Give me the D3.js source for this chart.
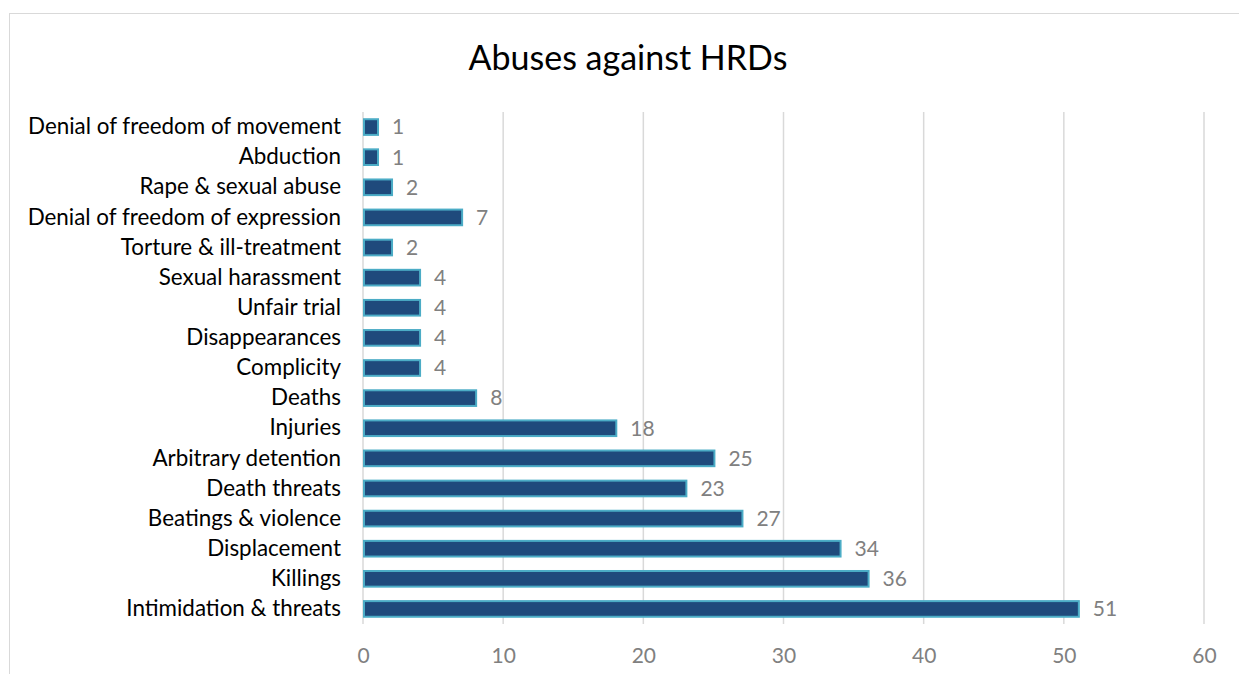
<!DOCTYPE html>
<html>
<head>
<meta charset="utf-8">
<script src="https://cdn.jsdelivr.net/npm/d3@7"></script>
<style>
  body { margin: 0; background: #fff; }
  svg { font-family: Lato, sans-serif; }
</style>
</head>
<body>
<div id="chart"></div>
<script>
var categories = [
  "Denial of freedom of movement", "Abduction", "Rape & sexual abuse",
  "Denial of freedom of expression", "Torture & ill-treatment", "Sexual harassment",
  "Unfair trial", "Disappearances", "Complicity", "Deaths ", "Injuries",
  "Arbitrary detention", "Death threats", "Beatings & violence", "Displacement",
  "Killings", "Intimidation & threats"
];
var values = [1, 1, 2, 7, 2, 4, 4, 4, 4, 8, 18, 25, 23, 27, 34, 36, 51];
var xTicks = [0, 10, 20, 30, 40, 50, 60];

var W = 1239, H = 674;
var margin = {top: 112, right: 35, bottom: 50, left: 363},
    width = 1204 - margin.left,
    height = 624 - margin.top;

var svg = d3.select("#chart").append("svg")
    .attr("width", W)
    .attr("height", H);

// chart frame
svg.append("rect")
  .attr("x", 9.5).attr("y", 13.5)
  .attr("width", W).attr("height", H)
  .attr("fill", "none")
  .attr("stroke", "#d9d9d9")
  .attr("stroke-width", 1);

svg.append("text")
  .attr("x", 628).attr("y", 70)
  .attr("text-anchor", "middle")
  .attr("font-size", 34)
  .attr("fill", "#000")
  .text("Abuses against HRDs");

var g = svg.append("g")
  .attr("transform", "translate(" + margin.left + "," + margin.top + ")");

var x = d3.scaleLinear().domain([0, 60]).range([0, width]);
var y = d3.scaleBand().domain(categories).range([0, height])
  .paddingInner(0.48).paddingOuter(0.24);

// vertical grid
g.append("g")
  .selectAll("line")
  .data(xTicks)
  .enter().append("line")
    .attr("x1", function(d){ return x(d); })
    .attr("x2", function(d){ return x(d); })
    .attr("y1", 0).attr("y2", height)
    .attr("stroke", "#d9d9d9")
    .attr("stroke-width", 1.5);

// x tick labels
var xAxis = g.append("g")
  .attr("transform", "translate(0," + height + ")")
  .call(d3.axisBottom(x).tickValues(xTicks).tickSize(0).tickPadding(24));
xAxis.select(".domain").remove();
xAxis.selectAll("text")
  .attr("font-size", 21)
  .attr("font-family", "Lato, sans-serif")
  .attr("fill", "#808080");

// category labels
var yAxis = g.append("g")
  .call(d3.axisLeft(y).tickSize(0).tickPadding(22));
yAxis.select(".domain").remove();
yAxis.selectAll("text")
  .attr("font-size", 22.4)
  .attr("font-family", "Lato, sans-serif")
  .attr("fill", "#000");

// bars
g.append("g")
  .selectAll("rect")
  .data(values)
  .enter().append("rect")
    .attr("x", x(0) + 1)
    .attr("y", function(d, i){ return y(categories[i]); })
    .attr("width", function(d){ return x(d) - x(0); })
    .attr("height", y.bandwidth())
    .attr("fill", "#1f4a7c")
    .attr("stroke", "#4bacc6")
    .attr("stroke-width", 2);

// value labels
g.append("g")
  .selectAll("text")
  .data(values)
  .enter().append("text")
    .attr("x", function(d){ return x(d) + 15; })
    .attr("y", function(d, i){ return y(categories[i]) + y.bandwidth() / 2; })
    .attr("dy", "0.35em")
    .attr("font-size", 21)
    .attr("fill", "#808080")
    .text(function(d){ return d; });
</script>
</body>
</html>
